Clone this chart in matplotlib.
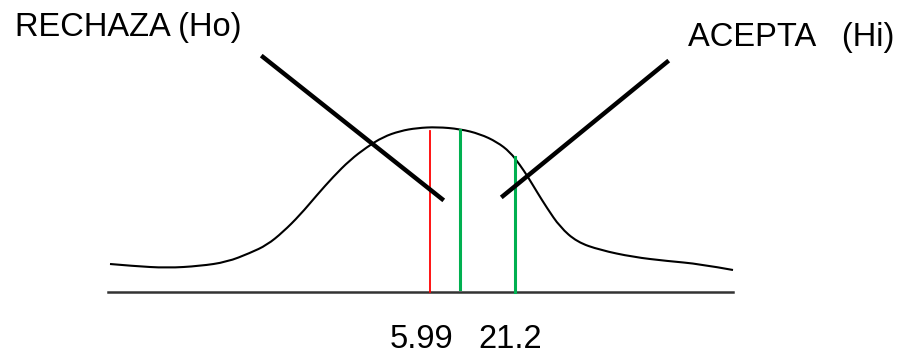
import matplotlib.pyplot as plt
from matplotlib.path import Path
from matplotlib.patches import PathPatch

plt.rcParams['font.family'] = ['Liberation Sans', 'DejaVu Sans']

# curve (x, y in picture units, y grows downwards)
curve_x = [110, 133, 167, 200, 227, 250, 267, 283, 300, 317, 333, 350, 367,
           383, 400, 417, 437, 460, 480, 497, 510, 520, 528, 537, 547, 560,
           577, 600, 633, 667, 700, 733]
curve_y = [264, 266, 268, 266, 262, 253, 245, 232, 215, 195, 177, 160, 147,
           137, 131, 128, 127, 129, 134, 142, 152, 165, 177, 192, 208, 227,
           242, 250, 257, 261, 264, 270]

# baseline
base_x = [108, 733]
base_y = 292

# critical value lines
red_x = 430
red_top = 131
green_x = [460, 515]
green_top = [130, 157]
green_bottom = [289, 292]

# pointer lines
ptr_left = ([263, 442], [57, 199])
ptr_right = ([667, 503], [62, 196])

labels = ["RECHAZA (Ho)", "ACEPTA   (Hi)"]
ticks = ["5.99", "21.2"]

fig = plt.figure(figsize=(9, 3.58), dpi=100)
ax = fig.add_axes([0, 0, 1, 1])
ax.set_xlim(0, 900)
ax.set_ylim(358, 0)
ax.axis('off')

# smooth curve: read points as quadratic bezier controls through midpoints
pts = list(zip(curve_x, curve_y))
verts = [pts[0]]
codes = [Path.MOVETO]
for i in range(1, len(pts) - 1):
    mid = ((pts[i][0] + pts[i + 1][0]) / 2, (pts[i][1] + pts[i + 1][1]) / 2)
    if i == len(pts) - 2:
        mid = pts[-1]
    verts += [pts[i], mid]
    codes += [Path.CURVE3, Path.CURVE3]
ax.add_patch(PathPatch(Path(verts, codes), fill=False, edgecolor='black', lw=1.5))

ax.plot(base_x, [base_y, base_y], color='#333333', lw=1.8)

ax.plot([red_x, red_x], [red_top, base_y], color='#ff0000', lw=1.3)
for gx, gt, gb in zip(green_x, green_top, green_bottom):
    ax.plot([gx, gx], [gt, gb], color='#00b050', lw=2.2)

ax.plot(ptr_left[0], ptr_left[1], color='black', lw=3.2)
ax.plot(ptr_right[0], ptr_right[1], color='black', lw=3.2)

fs = 23.5
ax.text(15, 36, labels[0], fontsize=fs, ha='left', va='baseline')
ax.text(688, 46, labels[1], fontsize=fs, ha='left', va='baseline')
ax.text(390, 348, ticks[0], fontsize=fs, ha='left', va='baseline')
ax.text(478, 348, ticks[1], fontsize=fs, ha='left', va='baseline')

fig.savefig('out.png', dpi=100)
